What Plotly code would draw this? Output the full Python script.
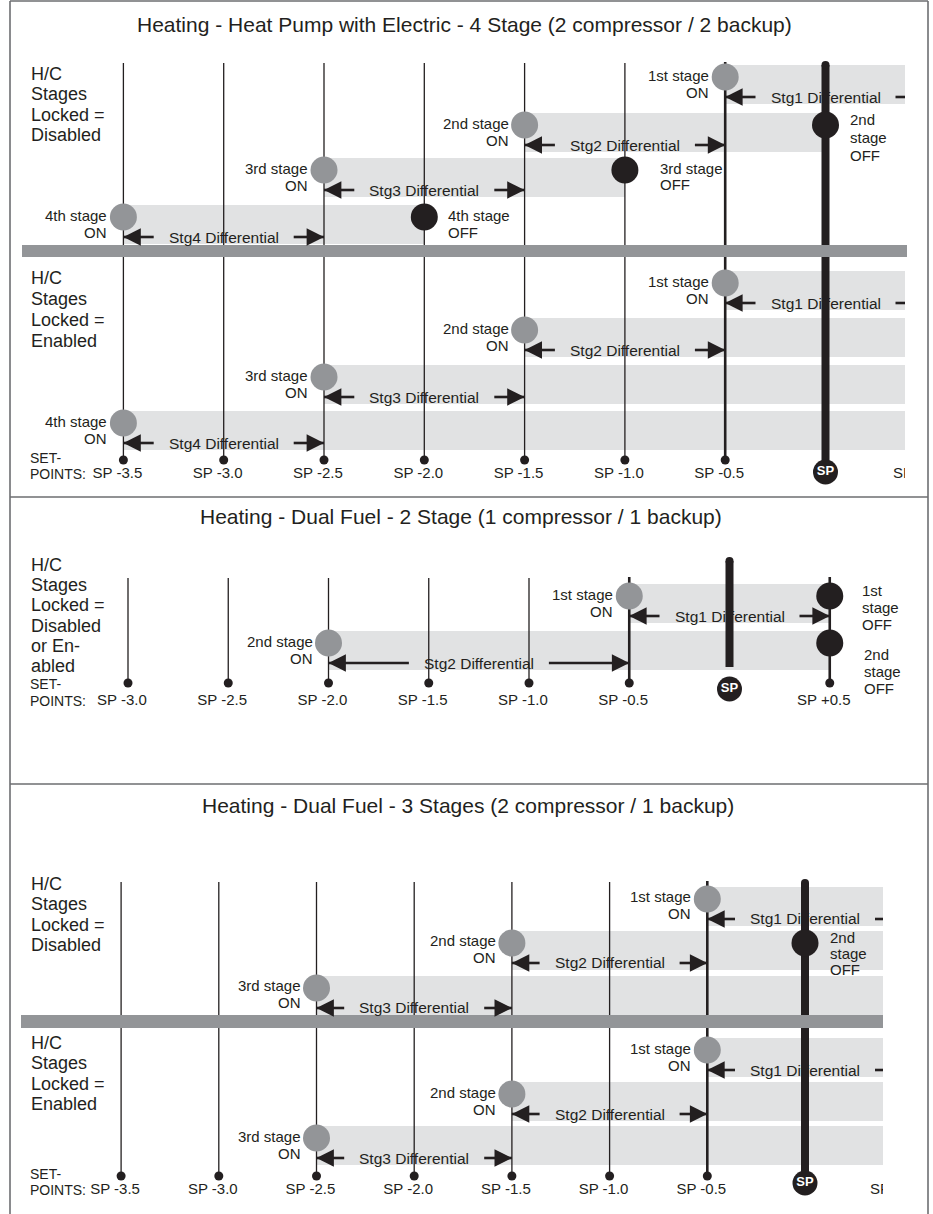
import plotly.graph_objects as go

W, H = 933, 1214
FONT = "Liberation Sans, Arial, Helvetica, sans-serif"
INK = "#231f20"
DISC = "#939598"
BAND = "#e1e2e3"
SEP = "#939598"
FRAME = "#6d6e71"

# ---------------- data ----------------
P1_TITLE = "Heating - Heat Pump with Electric - 4 Stage (2 compressor / 2 backup)"
P1_SP = [-3.5, -3.0, -2.5, -2.0, -1.5, -1.0, -0.5, 0.0, 0.5]
P1_SP_LABELS = ["SP -3.5", "SP -3.0", "SP -2.5", "SP -2.0", "SP -1.5", "SP -1.0", "SP -0.5", "SP", "SP +0.5"]
P1_STAGES = ["1st stage", "2nd stage", "3rd stage", "4th stage"]
P1_DIFFS = ["Stg1 Differential", "Stg2 Differential", "Stg3 Differential", "Stg4 Differential"]
P1_ON = [-0.5, -1.5, -2.5, -3.5]
P1_DIFF_TO = [0.5, -0.5, -1.5, -2.5]
P1_DIS_OFF = [0.5, 0.0, -1.0, -2.0]
P1_DIS_BAND_END = [0.5, 0.0, -1.0, -2.0]
P1_EN_OFF = [0.5, 0.5, 0.5, 0.5]
P1_EN_BAND_END = [0.5, 0.5, 0.5, 0.5]

P2_TITLE = "Heating - Dual Fuel - 2 Stage (1 compressor / 1 backup)"
P2_SP = [-3.0, -2.5, -2.0, -1.5, -1.0, -0.5, 0.0, 0.5]
P2_SP_LABELS = ["SP -3.0", "SP -2.5", "SP -2.0", "SP -1.5", "SP -1.0", "SP -0.5", "SP", "SP +0.5"]
P2_STAGES = ["1st stage", "2nd stage"]
P2_DIFFS = ["Stg1 Differential", "Stg2 Differential"]
P2_ON = [-0.5, -2.0]
P2_DIFF_TO = [0.5, -0.5]
P2_OFF = [0.5, 0.5]
P2_BAND_END = [0.5, 0.5]

P3_TITLE = "Heating - Dual Fuel - 3 Stages (2 compressor / 1 backup)"
P3_SP = [-3.5, -3.0, -2.5, -2.0, -1.5, -1.0, -0.5, 0.0, 0.5]
P3_SP_LABELS = ["SP -3.5", "SP -3.0", "SP -2.5", "SP -2.0", "SP -1.5", "SP -1.0", "SP -0.5", "SP", "SP +0.5"]
P3_STAGES = ["1st stage", "2nd stage", "3rd stage"]
P3_DIFFS = ["Stg1 Differential", "Stg2 Differential", "Stg3 Differential"]
P3_ON = [-0.5, -1.5, -2.5]
P3_DIFF_TO = [0.5, -0.5, -1.5]
P3_DIS_OFF = [0.5, 0.0, 0.5]
P3_DIS_BAND_END = [0.5, 0.5, 0.5]
P3_EN_OFF = [0.5, 0.5, 0.5]
P3_EN_BAND_END = [0.5, 0.5, 0.5]

# ---------------- layout (pixel calibration of each panel) ----------------
LEFT = 11
NAME_FONT = 18
PANELS = [
    dict(title=P1_TITLE, tx=464, ty=25, top=0, bottom=497, clip=905, sp0=825.5, unit=200.6,
         sp=P1_SP, labels=P1_SP_LABELS, thick=[-0.5], line_top=63, sp_top=62, sp_bottom=472,
         dot_y=460, label_y=474, set_y=(458, 474), sp_circle_y=472),
    dict(title=P2_TITLE, tx=461, ty=517, top=497, bottom=784, clip=905, sp0=729.5, unit=200.5,
         sp=P2_SP, labels=P2_SP_LABELS, thick=[-0.5, 0.5], line_top=578, sp_top=558, sp_bottom=667,
         dot_y=683, label_y=701, set_y=(684, 701), sp_circle_y=689),
    dict(title=P3_TITLE, tx=468, ty=805, top=784, bottom=1214, clip=883, sp0=805.0, unit=195.4,
         sp=P3_SP, labels=P3_SP_LABELS, thick=[-0.5], line_top=882, sp_top=880, sp_bottom=1183,
         dot_y=1176, label_y=1190, set_y=(1174, 1190), sp_circle_y=1183),
]

SECTIONS = [
    dict(panel=0, name=["H/C", "Stages", "Locked =", "Disabled"], name_y=74, name_step=20.4,
         rows=[77, 125, 170, 217], stages=P1_STAGES, diffs=P1_DIFFS, on=P1_ON, diff_to=P1_DIFF_TO,
         off=P1_DIS_OFF, band_end=P1_DIS_BAND_END,
         off_text={1: (22, -6, 18, ["2nd", "stage", "OFF"]), 2: (33, -2, 16, ["3rd stage", "OFF"]),
                   3: (22, -2, 17, ["4th stage", "OFF"])}),
    dict(panel=0, name=["H/C", "Stages", "Locked =", "Enabled"], name_y=278, name_step=21,
         rows=[283, 330, 377, 423], stages=P1_STAGES, diffs=P1_DIFFS, on=P1_ON, diff_to=P1_DIFF_TO,
         off=P1_EN_OFF, band_end=P1_EN_BAND_END, off_text={}),
    dict(panel=1, name=["H/C", "Stages", "Locked =", "Disabled", "or En-", "abled"], name_y=565, name_step=20.2,
         rows=[596, 643], stages=P2_STAGES, diffs=P2_DIFFS, on=P2_ON, diff_to=P2_DIFF_TO,
         off=P2_OFF, band_end=P2_BAND_END,
         off_text={0: (30, -6, 17, ["1st", "stage", "OFF"]), 1: (32, 11, 17, ["2nd", "stage", "OFF"])}),
    dict(panel=2, name=["H/C", "Stages", "Locked =", "Disabled"], name_y=884, name_step=20.3,
         rows=[899, 943, 988], stages=P3_STAGES, diffs=P3_DIFFS, on=P3_ON, diff_to=P3_DIFF_TO,
         off=P3_DIS_OFF, band_end=P3_DIS_BAND_END,
         off_text={1: (23, -5, 16, ["2nd", "stage", "OFF"])}),
    dict(panel=2, name=["H/C", "Stages", "Locked =", "Enabled"], name_y=1043, name_step=20.3,
         rows=[1050, 1094, 1138], stages=P3_STAGES, diffs=P3_DIFFS, on=P3_ON, diff_to=P3_DIFF_TO,
         off=P3_EN_OFF, band_end=P3_EN_BAND_END, off_text={}),
]
SEP_BARS = [(22, 907, 245, 257), (21, 883, 1015, 1028)]

fig = go.Figure()
annotations = []
shapes = []
layout_axes = {}


def refs(i):
    s = "" if i == 0 else str(i + 1)
    return "x" + s, "y" + s


for i, p in enumerate(PANELS):
    xr, yr = refs(i)
    s = "" if i == 0 else str(i + 1)
    x0 = (LEFT - p["sp0"]) / p["unit"]
    x1 = (p["clip"] - p["sp0"]) / p["unit"]
    p["xmax"] = x1
    layout_axes["xaxis" + s] = dict(domain=[LEFT / W, p["clip"] / W], range=[x0, x1], visible=False,
                                    fixedrange=True, anchor=yr)
    layout_axes["yaxis" + s] = dict(domain=[1 - p["bottom"] / H, 1 - p["top"] / H],
                                    range=[p["bottom"], p["top"]], visible=False, fixedrange=True, anchor=xr)

# ---- bands (bars) ----
for sec in SECTIONS:
    xr, yr = refs(sec["panel"])
    fig.add_trace(go.Bar(orientation="h", base=sec["on"],
                         x=[e - o for e, o in zip(sec["band_end"], sec["on"])],
                         y=[r + 7.5 for r in sec["rows"]], width=39,
                         marker=dict(color=BAND, line=dict(width=0)),
                         xaxis=xr, yaxis=yr, hoverinfo="skip", showlegend=False))

# ---- vertical set-point lines ----
for i, p in enumerate(PANELS):
    xr, yr = refs(i)
    thin_x, thin_y, thick_x, thick_y = [], [], [], []
    for v in p["sp"]:
        if v == 0.0:
            continue
        if v in p["thick"]:
            thick_x += [v, v, None]
            thick_y += [p["line_top"] - 1, p["dot_y"], None]
        else:
            thin_x += [v, v, None]
            thin_y += [p["line_top"], p["dot_y"], None]
    fig.add_trace(go.Scatter(x=thin_x, y=thin_y, mode="lines", line=dict(color=INK, width=1.3),
                             xaxis=xr, yaxis=yr, hoverinfo="skip", showlegend=False))
    fig.add_trace(go.Scatter(x=thick_x, y=thick_y, mode="lines", line=dict(color=INK, width=2.6),
                             xaxis=xr, yaxis=yr, hoverinfo="skip", showlegend=False))
    fig.add_trace(go.Scatter(x=[0.0, 0.0], y=[p["sp_top"] + 3, p["sp_bottom"]], mode="lines",
                             line=dict(color=INK, width=8), xaxis=xr, yaxis=yr,
                             hoverinfo="skip", showlegend=False))
    fig.add_trace(go.Scatter(x=[0.0], y=[p["sp_top"] + 3], mode="markers",
                             marker=dict(color=INK, size=8, line=dict(width=0)), xaxis=xr, yaxis=yr,
                             hoverinfo="skip", showlegend=False))

# ---- differential arrows ----
for sec in SECTIONS:
    p = PANELS[sec["panel"]]
    xr, yr = refs(sec["panel"])
    gap = 70 / p["unit"]
    sx, sy = [], []
    for on, to, r, txt in zip(sec["on"], sec["diff_to"], sec["rows"], sec["diffs"]):
        ay = r + 20
        mid = (on + to) / 2
        sx += [on, mid - gap, None, mid + gap, to, None]
        sy += [ay, ay, None, ay, ay, None]
        annotations.append(dict(x=mid, y=ay, xref=xr, yref=yr, text=txt, showarrow=False,
                                font=dict(family=FONT, size=15.5, color=INK), xanchor="center", yanchor="middle"))
        for tip, tail in ((on, 16), (to, -16)):
            if tip < p["xmax"]:
                annotations.append(dict(x=tip, y=ay, xref=xr, yref=yr, ax=tail, ay=0, text="",
                                        showarrow=True, arrowhead=2, arrowsize=1.45, arrowwidth=2.4,
                                        arrowcolor=INK, standoff=0))
    fig.add_trace(go.Scatter(x=sx, y=sy, mode="lines", line=dict(color=INK, width=2.6),
                             xaxis=xr, yaxis=yr, hoverinfo="skip", showlegend=False))

# ---- stage circles and labels ----
for sec in SECTIONS:
    p = PANELS[sec["panel"]]
    xr, yr = refs(sec["panel"])
    fig.add_trace(go.Scatter(x=sec["on"], y=sec["rows"], mode="markers",
                             marker=dict(color=DISC, size=27, line=dict(width=0)),
                             xaxis=xr, yaxis=yr, hoverinfo="skip", showlegend=False))
    fig.add_trace(go.Scatter(x=sec["off"], y=sec["rows"], mode="markers",
                             marker=dict(color=INK, size=27, line=dict(width=0)),
                             xaxis=xr, yaxis=yr, hoverinfo="skip", showlegend=False))
    for on, r, st in zip(sec["on"], sec["rows"], sec["stages"]):
        for txt, dy in ((st, -2), ("ON", 15)):
            annotations.append(dict(x=on, y=r + dy, xref=xr, yref=yr, xshift=-14, text=txt, showarrow=False,
                                    font=dict(family=FONT, size=15, color=INK), xanchor="right", yanchor="middle"))
    for k, (dx, dy, step, lines) in sec["off_text"].items():
        off = sec["off"][k]
        if off >= p["xmax"]:
            continue
        for j, txt in enumerate(lines):
            annotations.append(dict(x=off, y=sec["rows"][k] + dy + j * step, xref=xr, yref=yr, xshift=dx,
                                    text=txt, showarrow=False, font=dict(family=FONT, size=15, color=INK),
                                    xanchor="left", yanchor="middle"))
    for j, txt in enumerate(sec["name"]):
        annotations.append(dict(x=29 / W, y=1 - (sec["name_y"] + j * sec["name_step"]) / H, xref="paper",
                                yref="paper", text=txt, showarrow=False,
                                font=dict(family=FONT, size=NAME_FONT, color=INK), xanchor="left",
                                yanchor="middle"))

# ---- set-point dots, SP marker and labels ----
for i, p in enumerate(PANELS):
    xr, yr = refs(i)
    pts = [v for v in p["sp"] if v != 0.0]
    fig.add_trace(go.Scatter(x=pts, y=[p["dot_y"]] * len(pts), mode="markers",
                             marker=dict(color=INK, size=9, line=dict(width=0)),
                             xaxis=xr, yaxis=yr, hoverinfo="skip", showlegend=False))
    fig.add_trace(go.Scatter(x=[0.0], y=[p["sp_circle_y"]], mode="markers+text", text=["<b>SP</b>"],
                             textposition="middle center",
                             textfont=dict(family=FONT, size=13, color="white"),
                             marker=dict(color=INK, size=25, line=dict(width=0)),
                             xaxis=xr, yaxis=yr, hoverinfo="skip", showlegend=False))
    lx = [v - 6 / p["unit"] for v in p["sp"] if v != 0.0]
    lt = [t for v, t in zip(p["sp"], p["labels"]) if v != 0.0]
    fig.add_trace(go.Scatter(x=lx, y=[p["label_y"]] * len(lx), mode="text", text=lt,
                             textposition="middle center", textfont=dict(family=FONT, size=15, color=INK),
                             xaxis=xr, yaxis=yr, hoverinfo="skip", showlegend=False, cliponaxis=True))
    annotations.append(dict(x=p["tx"] / W, y=1 - p["ty"] / H, xref="paper", yref="paper", text=p["title"],
                            showarrow=False, font=dict(family=FONT, size=21, color=INK),
                            xanchor="center", yanchor="middle"))
    for txt, yy in zip(("SET-", "POINTS:"), p["set_y"]):
        annotations.append(dict(x=28 / W, y=1 - yy / H, xref="paper", yref="paper", text=txt,
                                showarrow=False, font=dict(family=FONT, size=14, color=INK),
                                xanchor="left", yanchor="middle"))

# ---- separator bars and frame ----
for x0, x1, y0, y1 in SEP_BARS:
    shapes.append(dict(type="rect", xref="paper", yref="paper", x0=x0 / W, x1=x1 / W,
                       y0=1 - y1 / H, y1=1 - y0 / H, fillcolor=SEP, line=dict(width=0), layer="above"))
for (x0, y0, x1, y1) in [(10, 1, 928, 1), (10, 1, 10, 1214), (928, 1, 928, 1214),
                         (10, 497, 928, 497), (10, 784, 928, 784)]:
    shapes.append(dict(type="line", xref="paper", yref="paper", x0=x0 / W, x1=x1 / W,
                       y0=1 - y0 / H, y1=1 - y1 / H, line=dict(color=FRAME, width=1.6), layer="above"))

fig.update_layout(width=W, height=H, autosize=False, margin=dict(l=0, r=0, t=0, b=0),
                  paper_bgcolor="white", plot_bgcolor="rgba(0,0,0,0)", barmode="overlay",
                  showlegend=False, hovermode=False, annotations=annotations, shapes=shapes,
                  font=dict(family=FONT, color=INK), **layout_axes)

fig.write_html("out.html", config={"displayModeBar": False, "staticPlot": True},
               post_script="document.body.style.margin='0px';")
